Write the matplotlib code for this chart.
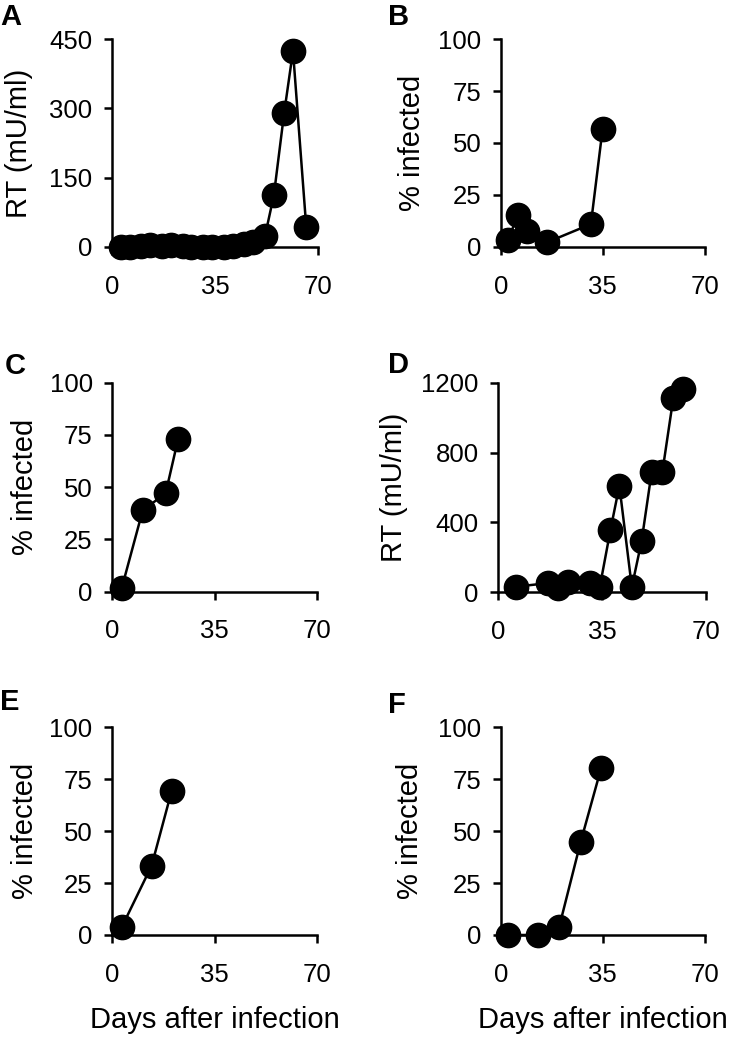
import matplotlib
matplotlib.use("Agg")
import matplotlib.pyplot as plt

plt.rcParams['font.family'] = ['Liberation Sans', 'DejaVu Sans']

# ---- data ----
days_A = [3, 6, 10, 13, 17, 20, 24, 27, 31, 34, 38, 41, 45, 48, 52, 55, 58.5, 61.5, 66]
rt_A = [1, 0, 2, 5, 3, 4, 2, 1, 0, 1, 0, 2, 6, 10, 24, 112, 290, 424, 44]

days_B = [2.6, 5.8, 8.9, 15.8, 30.9, 34.9]
inf_B = [3.4, 15.4, 7.9, 2.2, 11, 56.6]

days_C = [3.2, 10.4, 18.2, 22.5]
inf_C = [1.6, 39, 47, 73.2]

days_D = [6.0, 16.9, 20.1, 23.5, 30.9, 34.2, 37.8, 40.8, 45.0, 48.3, 51.7, 55.3, 59.0, 62.3]
rt_D = [32, 53, 25, 59, 53, 30, 357, 610, 30, 294, 690, 690, 1114, 1162]

days_E = [3.4, 13.6, 20.4]
inf_E = [3.7, 33.4, 69.3]

days_F = [2.6, 12.7, 20.0, 27.4, 34.4]
inf_F = [0, 0, 3.7, 44.8, 80.3]

x_ticks = [0, 35, 70]
rt_ticks_A = [0, 150, 300, 450]
rt_ticks_D = [0, 400, 800, 1200]
pct_ticks = [0, 25, 50, 75, 100]

W, H = 750, 1040
fig = plt.figure(figsize=(W / 100, H / 100), dpi=100)

panels = [
    ('A', days_A, rt_A, rt_ticks_A, 'RT (mU/ml)', (112, 318, 39, 247), -0.383, (0, 3), False),
    ('B', days_B, inf_B, pct_ticks, '% infected', (500.7, 705, 39, 247), -0.366, (388, 3), False),
    ('C', days_C, inf_C, pct_ticks, '% infected', (112.3, 317.3, 382.7, 591.7), -0.357, (5, 352), False),
    ('D', days_D, rt_D, rt_ticks_D, 'RT (mU/ml)', (498.3, 706, 382.7, 592.3), -0.435, (388, 351), False),
    ('E', days_E, inf_E, pct_ticks, '% infected', (111.7, 317.3, 727.3, 935), -0.354, (0, 688), True),
    ('F', days_F, inf_F, pct_ticks, '% infected', (500.7, 705, 727.3, 935), -0.375, (388, 691), True),
]

for letter, xs, ys, yt, ylab, (l, r, t, b), lx, (px, py), xlab in panels:
    ax = fig.add_axes([l / W, 1 - b / H, (r - l) / W, (b - t) / H])
    ax.plot(xs, ys, color='black', lw=1.8, marker='o', ms=17.5,
            markerfacecolor='black', markeredgecolor='black', clip_on=False, zorder=3)
    ax.set_xlim(0, 70)
    ax.set_ylim(yt[0], yt[-1])
    ax.set_xticks(x_ticks)
    ax.set_yticks(yt)
    for s in ['top', 'right']:
        ax.spines[s].set_visible(False)
    for s in ['left', 'bottom']:
        ax.spines[s].set_linewidth(1.8)
    ax.tick_params(axis='both', direction='out', length=6, width=1.8, labelsize=18.5)
    ax.tick_params(axis='x', pad=14)
    ax.tick_params(axis='y', pad=8)
    ax.set_ylabel(ylab, fontsize=21)
    ax.yaxis.set_label_coords(lx, 0.5)
    if xlab:
        ax.set_xlabel('Days after infection', fontsize=21, labelpad=14)
    fig.text(px / W, 1 - py / H, letter, fontsize=21, fontweight='bold',
             ha='left', va='top')

fig.savefig('out.png', dpi=100)
